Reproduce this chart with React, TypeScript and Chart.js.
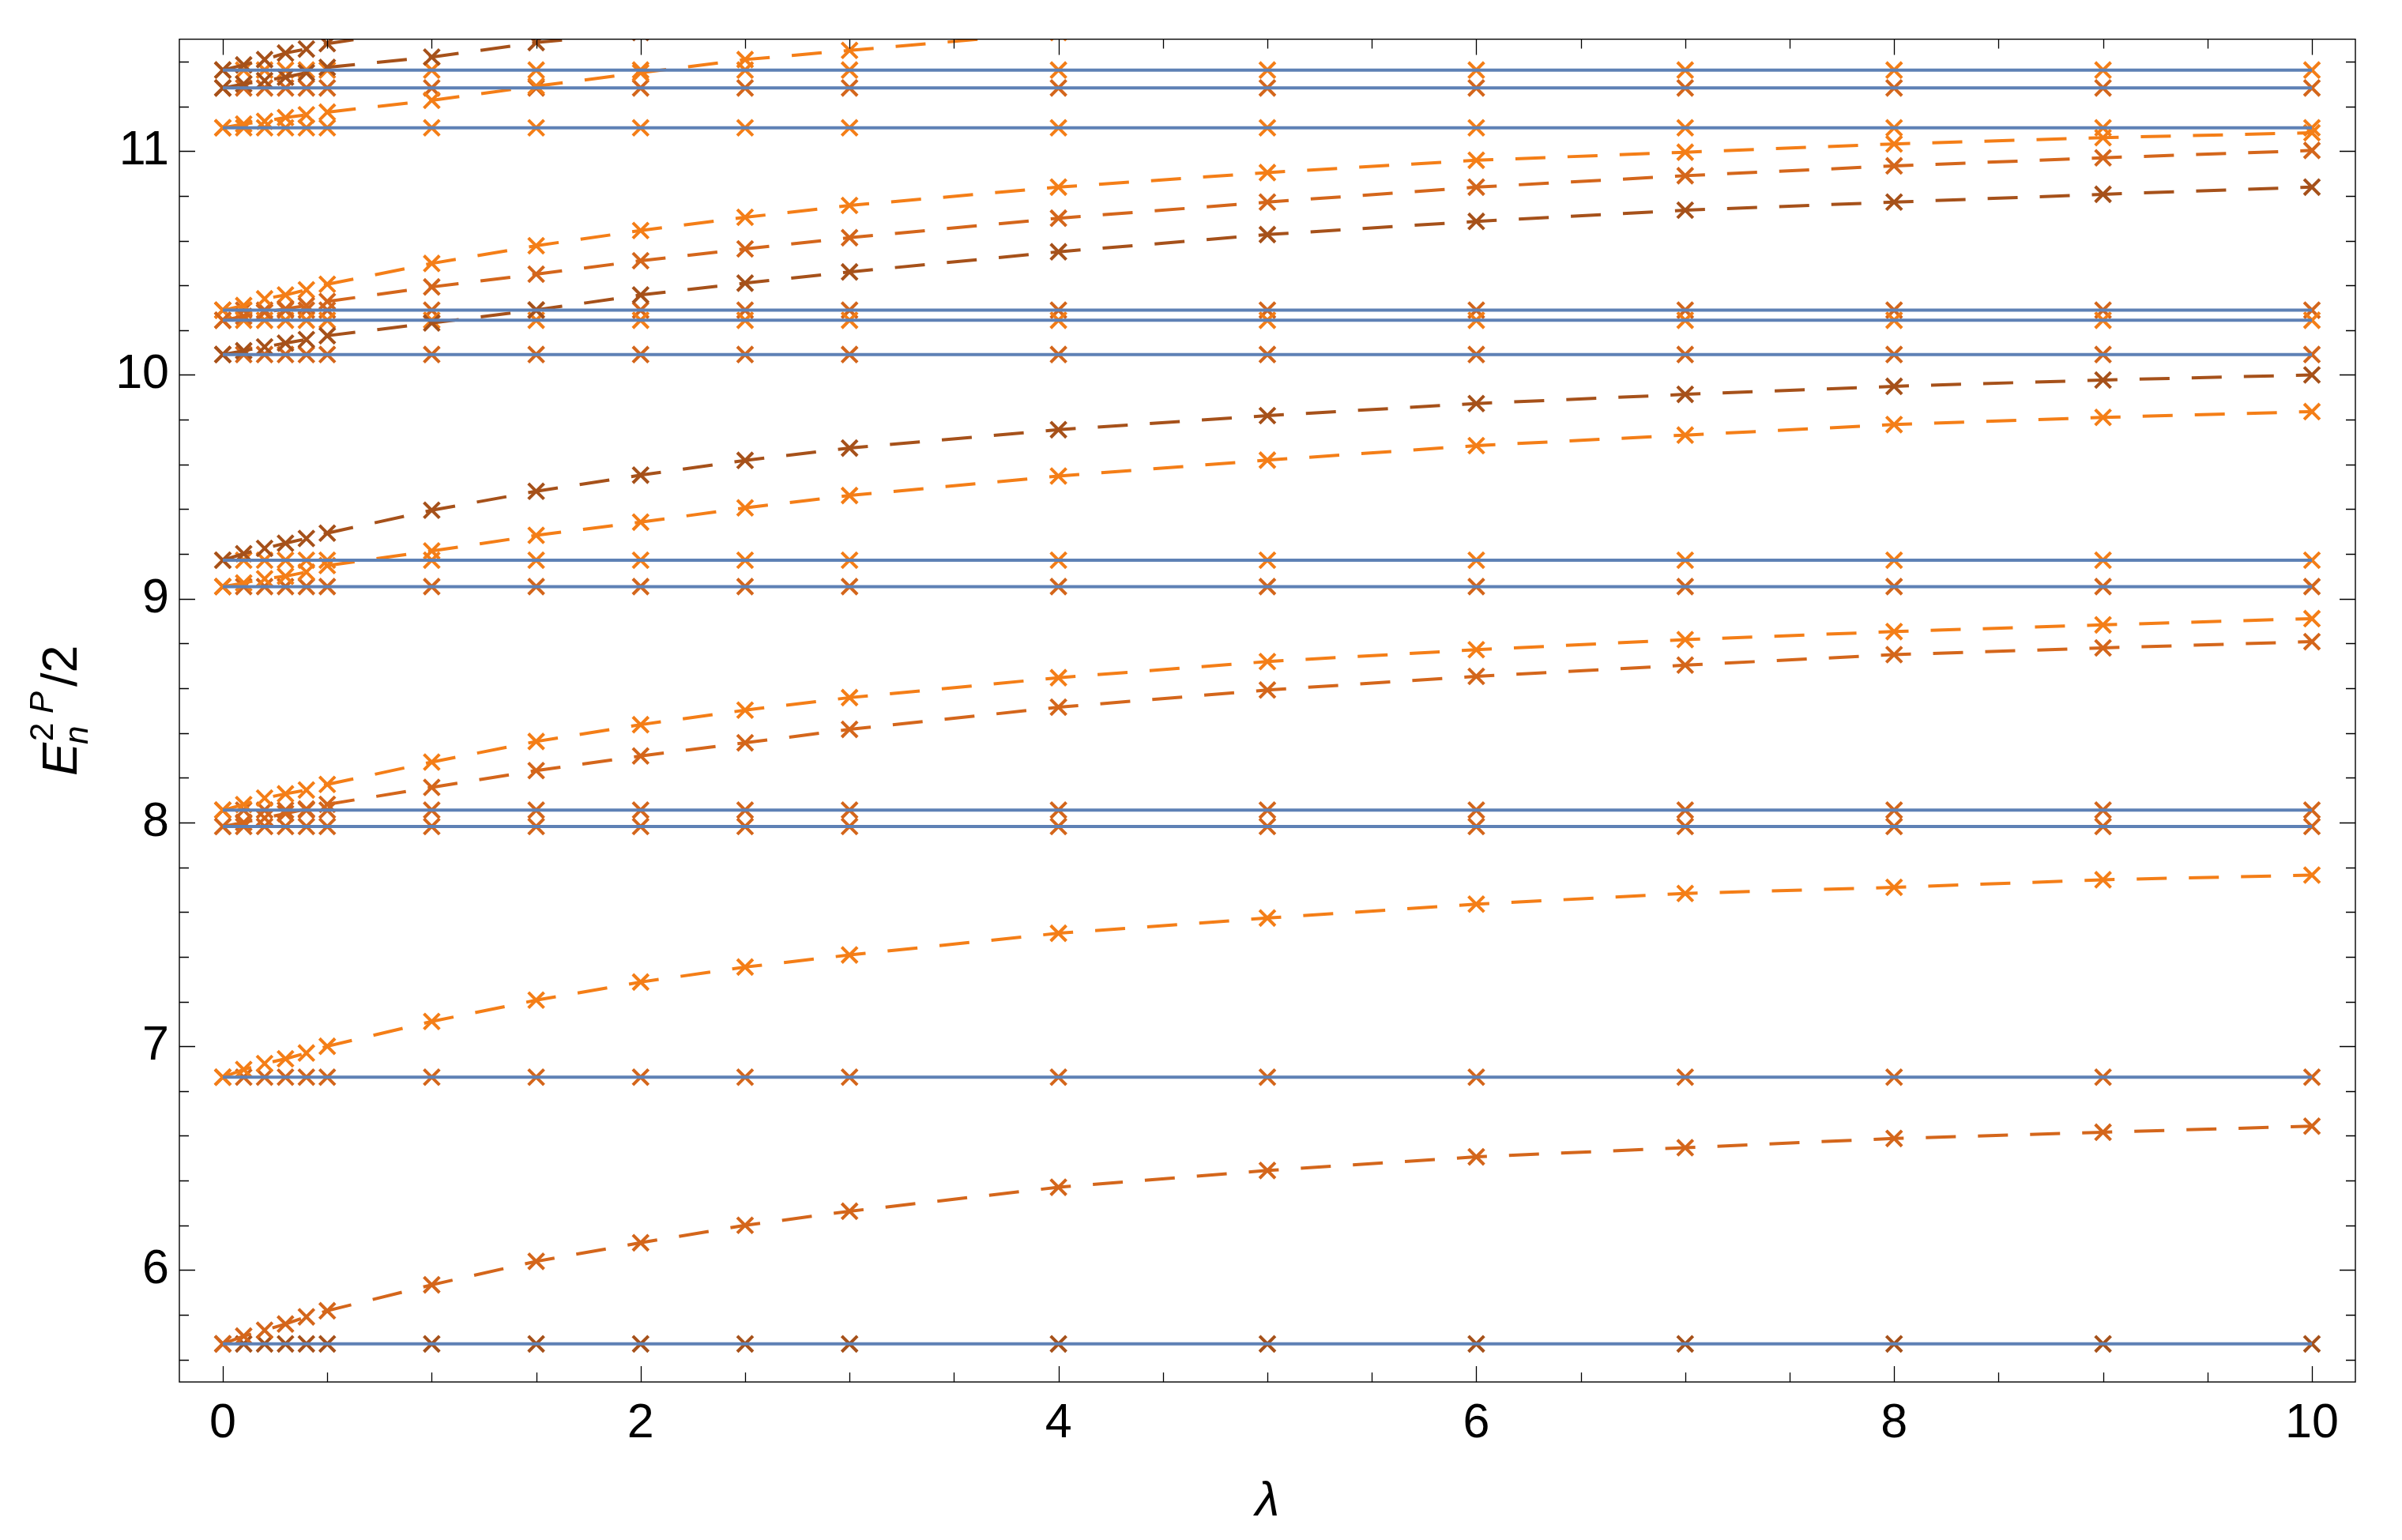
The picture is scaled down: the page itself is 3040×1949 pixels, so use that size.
import React, { useEffect, useRef } from 'react';
import { Chart, registerables } from 'chart.js';
Chart.register(...registerables);

// λ grid
const lambdas = [0, 0.1, 0.2, 0.3, 0.4, 0.5, 1, 1.5, 2, 2.5, 3, 4, 5, 6, 7, 8, 9, 10];

// λ-independent levels (solid blue lines)
const flatLevels = [5.670, 6.862, 7.982, 8.055, 9.054, 9.172, 10.091, 10.244, 10.289, 11.104, 11.282, 11.362];

// λ-dependent levels (dashed curves)
const curveA = [5.670, 5.705, 5.731, 5.759, 5.791, 5.818, 5.934, 6.039, 6.122, 6.200, 6.263, 6.370, 6.445, 6.506, 6.547, 6.588, 6.616, 6.643];
const curveB = [6.862, 6.896, 6.923, 6.944, 6.970, 7.000, 7.111, 7.206, 7.287, 7.354, 7.408, 7.505, 7.573, 7.635, 7.683, 7.710, 7.744, 7.765];
const curveC = [7.982, 8.000, 8.020, 8.040, 8.060, 8.081, 8.157, 8.232, 8.297, 8.356, 8.416, 8.515, 8.592, 8.653, 8.703, 8.750, 8.780, 8.808];
const curveD = [8.055, 8.080, 8.109, 8.128, 8.145, 8.170, 8.270, 8.362, 8.437, 8.502, 8.558, 8.647, 8.719, 8.772, 8.817, 8.853, 8.883, 8.911];
const curveE = [9.054, 9.070, 9.089, 9.100, 9.119, 9.148, 9.213, 9.283, 9.342, 9.406, 9.461, 9.548, 9.619, 9.684, 9.731, 9.778, 9.810, 9.836];
const curveF = [9.172, 9.201, 9.225, 9.248, 9.269, 9.293, 9.395, 9.480, 9.552, 9.618, 9.673, 9.755, 9.818, 9.872, 9.913, 9.949, 9.977, 10.000];
const curveG = [10.091, 10.108, 10.125, 10.142, 10.158, 10.175, 10.232, 10.290, 10.357, 10.410, 10.460, 10.550, 10.627, 10.686, 10.736, 10.772, 10.807, 10.839];
const curveH = [10.244, 10.262, 10.280, 10.295, 10.310, 10.328, 10.393, 10.450, 10.510, 10.563, 10.613, 10.700, 10.772, 10.839, 10.890, 10.934, 10.970, 11.003];
const curveI = [10.289, 10.310, 10.340, 10.357, 10.380, 10.405, 10.498, 10.577, 10.645, 10.704, 10.757, 10.839, 10.904, 10.959, 10.995, 11.032, 11.060, 11.082];
const curveJ = [11.104, 11.121, 11.133, 11.150, 11.162, 11.174, 11.227, 11.290, 11.350, 11.409, 11.450, 11.530];
const curveK = [11.282, 11.300, 11.315, 11.330, 11.350, 11.374, 11.420, 11.485, 11.530];
const curveL = [11.362, 11.385, 11.409, 11.438, 11.456, 11.480, 11.550];

const xTickLabels = [0, 2, 4, 6, 8, 10];
const yTickLabels = [6, 7, 8, 9, 10, 11];

const BLUE = '#5e81b5';
const BRIGHT = '#f47e17';
const MID = '#d4661b';
const BROWN = '#a6511a';

const flatMarkerColors = [BROWN, MID, MID, MID, MID, BRIGHT, MID, BRIGHT, MID, BRIGHT, MID, BRIGHT];
const curveSeries = [
  { values: curveA, color: MID },
  { values: curveB, color: BRIGHT },
  { values: curveC, color: MID },
  { values: curveD, color: BRIGHT },
  { values: curveE, color: BRIGHT },
  { values: curveF, color: BROWN },
  { values: curveG, color: BROWN },
  { values: curveH, color: MID },
  { values: curveI, color: BRIGHT },
  { values: curveJ, color: BRIGHT },
  { values: curveK, color: BROWN },
  { values: curveL, color: BROWN },
];

const FONT = '"Liberation Sans", Arial, sans-serif';

const framePlugin = {
  id: 'mmaFrame',
  afterDraw(chart: any) {
    const { ctx, chartArea: a, scales } = chart;
    const xs = scales.x;
    const ys = scales.y;
    ctx.save();
    ctx.strokeStyle = '#000';
    ctx.lineWidth = 1.4;
    ctx.strokeRect(a.left, a.top, a.right - a.left, a.bottom - a.top);
    ctx.lineWidth = 1.3;
    ctx.beginPath();
    for (let k = 0; k <= 20; k++) {
      const v = k * 0.5;
      const px = Math.round(xs.getPixelForValue(v)) + 0.5;
      const len = xTickLabels.includes(v) ? 20 : 12;
      ctx.moveTo(px, a.bottom); ctx.lineTo(px, a.bottom - len);
      ctx.moveTo(px, a.top); ctx.lineTo(px, a.top + len);
    }
    for (let k = 28; k <= 57; k++) {
      const v = k * 0.2;
      const py = Math.round(ys.getPixelForValue(v)) + 0.5;
      const major = yTickLabels.some((t) => Math.abs(t - v) < 1e-6);
      const len = major ? 20 : 12;
      ctx.moveTo(a.left, py); ctx.lineTo(a.left + len, py);
      ctx.moveTo(a.right, py); ctx.lineTo(a.right - len, py);
    }
    ctx.stroke();

    // y-axis title  E_n^{2 P}/2
    ctx.fillStyle = '#000';
    ctx.textBaseline = 'alphabetic';
    ctx.textAlign = 'left';
    const big = 63, small = 42;
    const parts: Array<{ t: string; f: string; dy: number; adv: boolean }> = [];
    ctx.font = `italic ${big}px ${FONT}`;
    const wE = ctx.measureText('E').width;
    ctx.font = `${small}px ${FONT}`;
    const w2s = ctx.measureText('2 ').width;
    ctx.font = `italic ${small}px ${FONT}`;
    const wP = ctx.measureText('P').width;
    ctx.font = `${big}px ${FONT}`;
    const wSl = ctx.measureText('/2').width;
    const total = wE + 2 + w2s + wP + 6 + wSl;
    const cy = (a.top + a.bottom) / 2;
    ctx.translate(a.left - 130, cy + total / 2);
    ctx.rotate(-Math.PI / 2);
    let x0 = 0;
    ctx.font = `italic ${big}px ${FONT}`;
    ctx.fillText('E', x0, 0);
    x0 += wE + 2;
    ctx.font = `italic ${small}px ${FONT}`;
    ctx.fillText('n', x0 - 4, 14);
    ctx.font = `${small}px ${FONT}`;
    ctx.fillText('2', x0, -30);
    x0 += w2s;
    ctx.font = `italic ${small}px ${FONT}`;
    ctx.fillText('P', x0, -30);
    x0 += wP + 6;
    ctx.font = `${big}px ${FONT}`;
    ctx.fillText('/2', x0, 0);
    ctx.restore();

    // x-axis title λ
    ctx.save();
    ctx.fillStyle = '#000';
    ctx.font = `italic 62px ${FONT}`;
    ctx.textAlign = 'center';
    ctx.textBaseline = 'alphabetic';
    ctx.fillText('λ', (a.left + a.right) / 2, 1918);
    ctx.restore();
  },
};

export default function App() {
  const ref = useRef<HTMLCanvasElement>(null);
  useEffect(() => {
    if (!ref.current) return;
    const datasets: any[] = [];
    flatLevels.forEach((lvl, i) => {
      const pts = lambdas.map((l) => ({ x: l, y: lvl }));
      datasets.push({
        data: pts,
        showLine: true,
        borderColor: BLUE,
        borderWidth: 4,
        pointRadius: 0,
        order: 0,
      });
      datasets.push({
        data: pts,
        showLine: false,
        pointStyle: 'crossRot',
        pointRadius: 14,
        pointBorderWidth: 4,
        pointBorderColor: flatMarkerColors[i],
        pointBackgroundColor: 'rgba(0,0,0,0)',
        order: 2,
      });
    });
    curveSeries.forEach((c) => {
      datasets.push({
        data: c.values.map((v, i) => ({ x: lambdas[i], y: v })),
        showLine: true,
        borderColor: c.color,
        borderWidth: 4,
        borderDash: [38, 28],
        pointStyle: 'crossRot',
        pointRadius: 14,
        pointBorderWidth: 4,
        pointBorderColor: c.color,
        pointBackgroundColor: 'rgba(0,0,0,0)',
        order: 1,
      });
    });

    const chart = new Chart(ref.current, {
      type: 'scatter',
      data: { datasets },
      plugins: [framePlugin],
      options: {
        animation: false,
        responsive: false,
        devicePixelRatio: 1,
        events: [],
        layout: { padding: { top: 47, right: 59, left: 0, bottom: 0 } },
        plugins: { legend: { display: false }, tooltip: { enabled: false } },
        scales: {
          x: {
            type: 'linear',
            min: -0.208,
            max: 10.208,
            afterBuildTicks: (s: any) => {
              s.ticks = xTickLabels.map((v) => ({ value: v }));
            },
            afterFit: (s: any) => {
              s.height = 200;
            },
            ticks: {
              font: { family: FONT, size: 61 },
              color: '#000',
              padding: 17,
              maxRotation: 0,
              autoSkip: false,
            },
            grid: { display: false, drawTicks: false },
            border: { display: false },
          },
          y: {
            type: 'linear',
            min: 5.5,
            max: 11.5,
            afterBuildTicks: (s: any) => {
              s.ticks = yTickLabels.map((v) => ({ value: v }));
            },
            afterFit: (s: any) => {
              s.width = 227;
            },
            ticks: {
              font: { family: FONT, size: 61 },
              color: '#000',
              padding: 13,
              autoSkip: false,
            },
            grid: { display: false, drawTicks: false },
            border: { display: false },
          },
        },
      },
    });
    return () => chart.destroy();
  }, []);

  return (
    <div style={{ position: 'absolute', left: 0, top: 0, width: 3040, height: 1949, background: '#fff' }}>
      <canvas ref={ref} width={3040} height={1949} style={{ width: 3040, height: 1949, display: 'block' }} />
    </div>
  );
}
